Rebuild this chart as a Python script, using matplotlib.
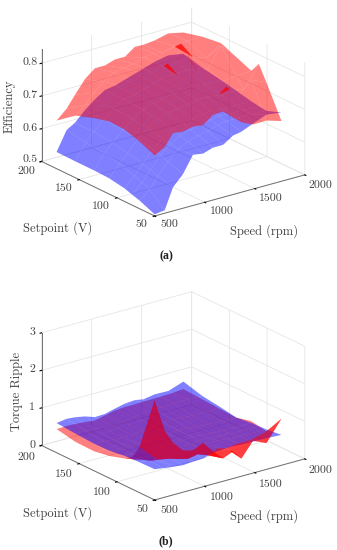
import numpy as np
import matplotlib
matplotlib.use("Agg")
import matplotlib.pyplot as plt

plt.rcParams['font.family'] = ['cmr10', 'DejaVu Serif']
plt.rcParams['axes.formatter.use_mathtext'] = True
plt.rcParams['axes.unicode_minus'] = False

speed = [500, 600, 683, 783, 883, 983, 1083, 1183, 1283, 1367, 1483, 1617, 1767]
setpoint = [50, 70, 80, 90, 110, 130, 155, 180]

# rows are setpoints, columns are speeds
eff_red = [
    [.685, .702, .738, .734, .741, .737, .760, .762, .735, .714, .697, .698, .684],
    [.705, .725, .750, .760, .770, .775, .785, .785, .775, .800, .760, .800, .780],
    [.712, .732, .758, .770, .778, .785, .792, .792, .788, .765, .772, .760, .825],
    [.720, .740, .765, .780, .785, .795, .800, .860, .800, .790, .785, .790, .793],
    [.722, .745, .770, .785, .795, .800, .850, .805, .860, .805, .800, .860, .813],
    [.710, .740, .765, .785, .795, .805, .800, .815, .805, .865, .815, .800, .833],
    [.690, .715, .745, .770, .790, .795, .800, .810, .815, .810, .820, .825, .825],
    [.647, .675, .710, .750, .775, .775, .785, .785, .807, .806, .810, .820, .810],
]
eff_blue = [
    [.505, .509, .572, .604, .655, .650, .660, .660, .680, .685, .700, .716, .710],
    [.525, .550, .585, .620, .650, .665, .675, .680, .690, .695, .695, .695, .693],
    [.532, .560, .592, .628, .655, .672, .682, .688, .695, .700, .697, .697, .696],
    [.540, .570, .600, .635, .660, .680, .690, .695, .700, .705, .700, .700, .700],
    [.548, .585, .610, .645, .670, .690, .700, .705, .710, .715, .715, .710, .710],
    [.550, .595, .620, .650, .675, .695, .705, .710, .720, .725, .725, .720, .720],
    [.550, .600, .625, .655, .680, .700, .705, .715, .725, .730, .735, .735, .730],
    [.551, .610, .625, .655, .680, .700, .705, .715, .725, .733, .745, .753, .745],
]
rip_red = [
    [2.65, 1.77, 1.39, 1.11, 1.04, 1.17, .87, .61, .72, .47, .86, .70, 1.24],
    [1.21, .95, .75, .70, .62, .55, .60, .50, .62, .55, .60, .60, .71],
    [.85, .72, .62, .58, .54, .52, .55, .52, .56, .55, .60, .65, .75],
    [.72, .62, .55, .50, .48, .52, .50, .55, .52, .58, .62, .70, .79],
    [.59, .52, .50, .48, .50, .48, .55, .52, .58, .55, .62, .62, .69],
    [.52, .50, .52, .50, .52, .55, .55, .58, .58, .62, .62, .65, .71],
    [.53, .55, .55, .55, .58, .60, .62, .62, .65, .65, .70, .72, .74],
    [.63, .64, .63, .61, .58, .64, .70, .72, .72, .73, .73, .74, .77],
]
rip_blue = [
    [.82, .78, .75, .72, .74, .75, .83, .85, .86, .84, .84, .83, .81],
    [.81, .78, .76, .74, .75, .76, .80, .82, .82, .80, .78, .77, .76],
    [.80, .775, .755, .735, .745, .755, .79, .81, .80, .78, .76, .755, .75],
    [.79, .77, .75, .73, .74, .75, .78, .80, .78, .76, .74, .74, .74],
    [.73, .72, .72, .72, .72, .74, .76, .78, .76, .74, .72, .70, .69],
    [.72, .72, .70, .68, .68, .72, .76, .80, .80, .78, .76, .75, .76],
    [.75, .76, .74, .70, .67, .70, .76, .82, .84, .82, .84, .84, .83],
    [.79, .83, .81, .76, .67, .68, .75, .81, .83, .79, .84, .83, .97],
]

speed_ticks = [500, 1000, 1500, 2000]
setpoint_ticks = [50, 100, 150, 200]
eff_ticks = [.5, .6, .7, .8]
rip_ticks = [0, 1, 2, 3]

fig = plt.figure(figsize=(3.37, 5.5), dpi=100)
S, W, H = 270, 337, 550


def make_axes(left, bottom, red, blue, zlim, zticks, extra_red):
    ax = fig.add_axes([left / W, bottom / H, S / W, S / H], projection='3d', computed_zorder=False)
    ax.set_proj_type('ortho')
    ax.view_init(elev=21.3, azim=-127)
    ax.set_box_aspect((1, 1, 0.643), zoom=1.05)
    ax.patch.set_alpha(0)
    X, Y = np.meshgrid(speed, setpoint)
    ax.plot_surface(X, Y, np.array(blue), color=(0, 0, 1), alpha=0.5, shade=False,
                    linewidth=0, antialiased=True, zorder=2 if extra_red else 1)
    ax.plot_surface(X, Y, np.array(red), color=(1, 0, 0), alpha=0.5, shade=False,
                    linewidth=0, antialiased=True, zorder=1 if extra_red else 2)
    if extra_red:
        ax.plot_surface(X[:2], Y[:2], np.array(red)[:2], color=(1, 0, 0), alpha=0.5, shade=False,
                        linewidth=0, antialiased=True, zorder=3)
    ax.set_xlim(500, 2000)
    ax.set_ylim(50, 200)
    ax.set_zlim(*zlim)
    ax.set_xticks(speed_ticks)
    ax.set_yticks(setpoint_ticks)
    ax.set_zticks(zticks)
    # mplot3d places tick labels on its own, they get written with fig.text below
    ax.set_xticklabels([])
    ax.set_yticklabels([])
    ax.set_zticklabels([])
    for axis in (ax.xaxis, ax.yaxis, ax.zaxis):
        axis.set_pane_color((1, 1, 1, 0))
        axis.pane.set_edgecolor('#e6e6e6')
        axis.line.set_color('#707070')
        axis.line.set_linewidth(0.7)
        axis._axinfo['grid']['color'] = '#e6e6e6'
        axis._axinfo['grid']['linewidth'] = 0.6
        axis._axinfo['tick']['color'] = '#707070'
        axis._axinfo['tick']['outward_factor'] = 0
        axis._axinfo['tick']['inward_factor'] = 0.12
    return ax


make_axes(34.5, 299.5, eff_red, eff_blue, (0.5, 0.844), eff_ticks, False)
make_axes(34.5, 15.5, rip_red, rip_blue, (0, 3), rip_ticks, True)

tl = dict(fontsize=8.5, color='#404040', ha='center', va='center')
for v, px, py, pxb, pyb in zip(speed_ticks, [169, 222, 271, 320], [224, 211, 198, 185],
                               [169, 222, 271, 320], [510, 497, 484, 470]):
    fig.text(px / W, 1 - py / H, str(v), **tl)
    fig.text(pxb / W, 1 - pyb / H, str(v), **tl)
for v, px, py, pxb, pyb in zip(setpoint_ticks, [141, 101, 64, 26], [224, 206, 188, 171],
                               [142, 102, 64, 26], [509, 492, 474, 457]):
    fig.text(px / W, 1 - py / H, str(v), **tl)
    fig.text(pxb / W, 1 - pyb / H, str(v), **tl)
for v, py in zip(eff_ticks, [159, 128, 95, 62]):
    fig.text(30 / W, 1 - py / H, f'{v:.1f}', **tl)
for v, py in zip(rip_ticks, [445, 407, 369, 332]):
    fig.text(32 / W, 1 - py / H, str(v), **tl)

lab = dict(fontsize=9, color='#404040', ha='center', va='center')
fig.text(58 / W, 1 - 228 / H, 'Setpoint (V)', **lab)
fig.text(264 / W, 1 - 231 / H, 'Speed (rpm)', **lab)
fig.text(10 / W, 1 - 106 / H, 'Efficiency', rotation=90, **lab)
fig.text(58 / W, 1 - 513 / H, 'Setpoint (V)', **lab)
fig.text(264 / W, 1 - 516 / H, 'Speed (rpm)', **lab)
fig.text(17 / W, 1 - 391 / H, 'Torque Ripple', rotation=90, **lab)
cap = dict(fontsize=8.5, fontweight='bold', family='Liberation Serif', color='#202020', ha='center', va='center')
fig.text(166 / W, 1 - 256 / H, '(a)', **cap)
fig.text(166 / W, 1 - 541 / H, '(b)', **cap)

fig.savefig('out.png', dpi=100)
